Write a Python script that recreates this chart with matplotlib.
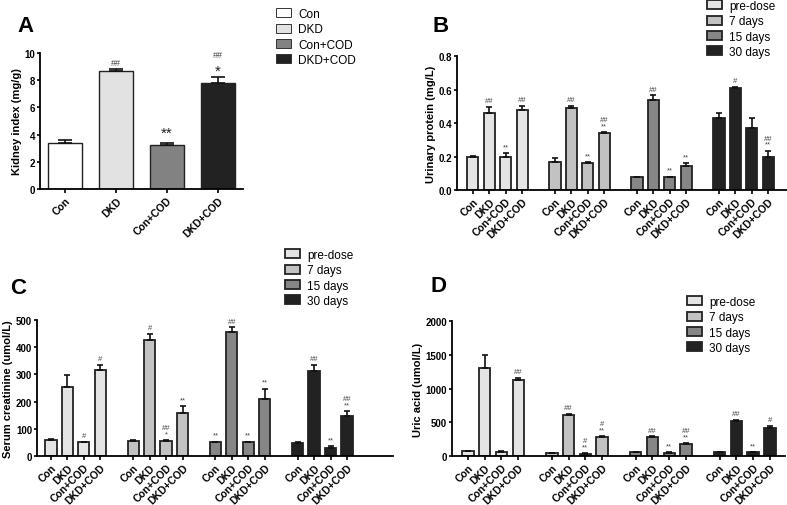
import matplotlib
matplotlib.use("Agg")
import matplotlib.pyplot as plt
import numpy as np
from matplotlib.patches import Patch

plt.rcParams['font.family'] = ['Liberation Sans', 'DejaVu Sans']

groups = ["Con", "DKD", "Con+COD", "DKD+COD"]
times = ["pre-dose", "7 days", "15 days", "30 days"]

# Panel A: kidney index
kidney_vals = [3.4, 8.65, 3.25, 7.8]
kidney_err = [0.2, 0.15, 0.15, 0.4]
kidney_sig = ["", "##", "**", "##\n*"]

# Panel B: urinary protein (rows = time points, cols = groups)
urine_vals = [[0.20, 0.46, 0.20, 0.48],
              [0.17, 0.49, 0.16, 0.34],
              [0.075, 0.535, 0.075, 0.145],
              [0.43, 0.61, 0.37, 0.195]]
urine_err = [[0.003, 0.035, 0.02, 0.02],
             [0.02, 0.01, 0.005, 0.008],
             [0.003, 0.03, 0.005, 0.015],
             [0.03, 0.005, 0.06, 0.04]]
urine_sig = [["", "##", "**", "##"],
             ["", "##", "**", "##\n**"],
             ["", "##", "**", "**"],
             ["", "#", "", "##\n**"]]

# Panel C: serum creatinine
creat_vals = [[60, 253, 50, 318],
              [57, 427, 55, 158],
              [50, 455, 50, 208],
              [48, 313, 30, 148]]
creat_err = [[3, 45, 3, 18],
             [2, 22, 5, 27],
             [3, 18, 3, 40],
             [3, 22, 5, 17]]
creat_sig = [["", "", "#", "#"],
             ["", "#", "##\n*", "**"],
             ["**", "##", "**", "**"],
             ["", "##", "**", "##\n**"]]

# Panel D: uric acid
uric_vals = [[75, 1310, 65, 1125],
             [40, 610, 35, 275],
             [55, 280, 50, 175],
             [55, 520, 55, 420]]
uric_err = [[5, 180, 5, 30],
            [3, 10, 5, 20],
            [3, 10, 5, 15],
            [3, 10, 5, 30]]
uric_sig = [["", "", "", "##"],
            ["", "##", "#\n**", "#\n**"],
            ["", "##", "**", "##\n**"],
            ["", "##", "**", "#"]]

colors_A = ["#ffffff", "#e2e2e2", "#828282", "#222222"]
colors_T = ["#e4e4e4", "#c2c2c2", "#868686", "#222222"]

fig = plt.figure(figsize=(7.87, 5.06), dpi=100)


def style_axes(ax):
    for s in ["top", "right"]:
        ax.spines[s].set_visible(False)
    for s in ["left", "bottom"]:
        ax.spines[s].set_linewidth(1.3)
    ax.tick_params(axis="x", width=1.2, length=3, labelsize=7.5, pad=1.5)
    ax.tick_params(axis="y", width=1.2, length=2.5, labelsize=7, pad=1)
    for lab in ax.get_yticklabels():
        lab.set_fontweight("bold")


def annotate(ax, x, top, txt, size=6, color="#444444"):
    if not txt:
        return
    ax.annotate(txt, (x, top), xytext=(0, 2), textcoords="offset points",
                ha="center", va="bottom", fontsize=size, color=color,
                linespacing=0.85)


def legend(handles, labels, pos):
    fig.legend(handles, labels, loc="upper left", bbox_to_anchor=pos, frameon=False,
               fontsize=8.5, handlelength=1.3, handleheight=0.8, labelspacing=0.28,
               handletextpad=0.6, borderaxespad=0, borderpad=0)


# ---- Panel A ----
axA = fig.add_axes([0.0508, 0.6245, 0.258, 0.2688])
xA = np.arange(4)
axA.bar(xA, kidney_vals, width=0.67, color=colors_A, edgecolor="#222222", linewidth=1.0)
axA.errorbar(xA, kidney_vals, yerr=[np.zeros(4), kidney_err], fmt="none",
             ecolor="#111111", elinewidth=1.2, capsize=5, capthick=1.2)
axA.set_xlim(-0.5, 3.5)
axA.set_ylim(0, 10)
axA.set_yticks([0, 2, 4, 6, 8, 10])
axA.set_xticks(xA)
axA.set_xticklabels(groups, rotation=45, ha="right", rotation_mode="anchor", fontweight="bold")
axA.set_ylabel("Kidney index (mg/g)", fontsize=8, fontweight="bold", labelpad=2)
style_axes(axA)
for i in range(4):
    s = kidney_sig[i]
    top = kidney_vals[i] + kidney_err[i]
    if s == "**":
        annotate(axA, xA[i], top, s, size=11, color="#222222")
    elif s == "##\n*":
        axA.annotate("*", (xA[i], top), xytext=(0, 0), textcoords="offset points",
                     ha="center", va="bottom", fontsize=11, color="#222222")
        axA.annotate("##", (xA[i], top), xytext=(0, 13), textcoords="offset points",
                     ha="center", va="bottom", fontsize=6.5, color="#444444")
    else:
        annotate(axA, xA[i], top, s, size=6.5)
fig.text(17 / 787, 1 - 27 / 506, "A", fontsize=16, fontweight="bold", va="center")
legend([Patch(facecolor=c, edgecolor="#333333", linewidth=0.7) for c in colors_A], groups,
       (276 / 787, 1 - 9 / 506))


def grouped(rect, vals, errs, sigs, ylim, yticks, ylabel, letter, xlim, legend_pos, letter_pos):
    ax = fig.add_axes(rect)
    xs_all, labels_all = [], []
    for g in range(4):
        xs = np.array([g * 5 + i for i in range(4)], dtype=float)
        ax.bar(xs, vals[g], width=0.68, color=colors_T[g], edgecolor="#222222", linewidth=1.3)
        ax.errorbar(xs, vals[g], yerr=[np.zeros(4), errs[g]], fmt="none",
                    ecolor="#111111", elinewidth=1.2, capsize=2.5, capthick=1.2)
        for i in range(4):
            annotate(ax, xs[i], vals[g][i] + errs[g][i], sigs[g][i], size=5.5)
        xs_all.extend(xs)
        labels_all.extend(groups)
    ax.set_xticks(xs_all)
    ax.set_xticklabels(labels_all, rotation=45, ha="right", rotation_mode="anchor", fontweight="bold")
    ax.set_xlim(*xlim)
    ax.set_ylim(*ylim)
    ax.set_yticks(yticks)
    ax.set_ylabel(ylabel, fontsize=8, fontweight="bold", labelpad=2)
    style_axes(ax)
    fig.text(letter_pos[0], letter_pos[1], letter, fontsize=16, fontweight="bold", va="center")
    legend([Patch(facecolor=c, edgecolor="#222222", linewidth=1.3) for c in colors_T], times,
           legend_pos)
    return ax


grouped([0.5807, 0.6225, 0.4193, 0.2648], urine_vals, urine_err, urine_sig,
        (0, 0.8), [0.0, 0.2, 0.4, 0.6, 0.8], "Urinary protein (mg/L)", "B",
        (-0.97, 19.15), (707 / 787, 1 - 1 / 506), (432 / 787, 1 - 27 / 506))

grouped([0.047, 0.0968, 0.4524, 0.2688], creat_vals, creat_err, creat_sig,
        (0, 500), [0, 100, 200, 300, 400, 500], "Serum creatinine (umol/L)", "C",
        (-0.85, 20.8), (285 / 787, 1 - 250 / 506), (10 / 787, 1 - 288 / 506))

grouped([0.5743, 0.0968, 0.4232, 0.2668], uric_vals, uric_err, uric_sig,
        (0, 2000), [0, 500, 1000, 1500, 2000], "Uric acid (umol/L)", "D",
        (-0.95, 18.9), (687 / 787, 1 - 297 / 506), (430 / 787, 1 - 287 / 506))

fig.savefig("out.png", dpi=100)
